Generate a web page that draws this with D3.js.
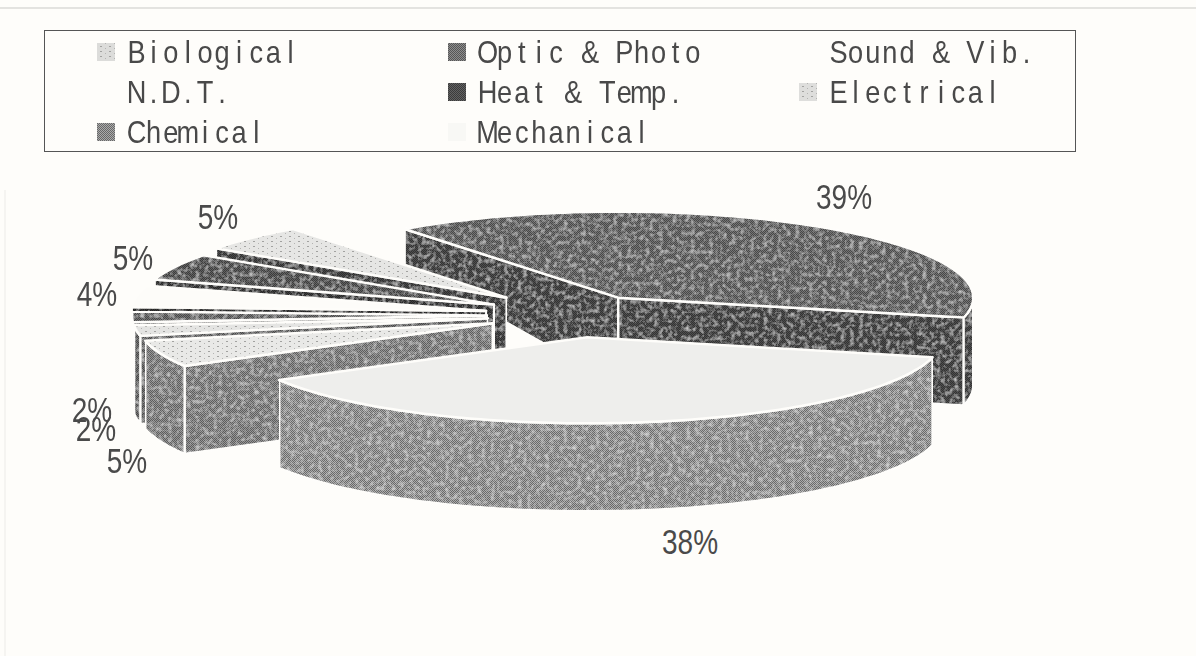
<!DOCTYPE html>
<html>
<head>
<meta charset="utf-8">
<script src="https://cdn.jsdelivr.net/npm/d3@7"></script>
<style>
  html, body { margin: 0; padding: 0; background: #fefdfa; }
  svg { display: block; }
</style>
</head>
<body>
<div id="chart"></div>
<script>
// clockwise round the pie, starting at the big dark slice
var categories = ['Heat & Temp.', 'Mechanical', 'Chemical', 'Electrical', 'Sound & Vib.', 'N.D.T.', 'Optic & Photo', 'Biological'];
var percents   = [39, 38, 5, 2, 2, 4, 5, 5];

// legend reading order
var legendNames = ['Biological', 'Optic & Photo', 'Sound & Vib.', 'N.D.T.', 'Heat & Temp.', 'Electrical', 'Chemical', 'Mechanical'];

// styles and layout, by slice
var topColors  = ['#5a5a5a', '#eeeeec', '#e9e9e7', '#e4e4e2', '#5a5a5a', '#fdfcf9', '#4c4c4c', '#e6e6e4'];
var sideColors = ['#3e3e3e', '#858585', '#757575', '#5a5a5a', '#555555', '#2c2c2c', '#333333', '#3a3a3a'];
var topStipple = [false, false, true, true, false, false, false, true];
var explodes   = [79, 86, 88, 88, 88, 90, 90, 95];
var labelSpots = [[844, 200], [690, 545], [127, 464], [96, 432], [92, 413], [97, 297], [133, 261], [218, 220]];
var swatchColors = { 'Biological': '#dcdcda', 'Optic & Photo': '#6e6e6e', 'Sound & Vib.': '#fefdfa', 'N.D.T.': '#fefdfa',
                     'Heat & Temp.': '#4c4c4c', 'Electrical': '#dededc', 'Chemical': '#858585', 'Mechanical': '#f8f8f5' };

var width = 1196, height = 656, paper = '#fefdfa';
var cx = 575, cy = 315, rx = 355, ry = 86, squash = 0.262;

var svg = d3.select('#chart').append('svg')
    .attr('width', width)
    .attr('height', height);

var defs = svg.append('defs');

/* Raster look of the scan: light blotches over a fine dither */
var grain = defs.append('filter').attr('id', 'grain')
    .attr('x', 0).attr('y', 0).attr('width', 1).attr('height', 1);
grain.append('feTurbulence').attr('type', 'fractalNoise').attr('baseFrequency', 0.22)
    .attr('numOctaves', 3).attr('seed', 4).attr('result', 'noise');
grain.append('feColorMatrix').attr('in', 'noise').attr('type', 'matrix')
    .attr('values', '0 0 0 0 1  0 0 0 0 1  0 0 0 0 1  1.1 0 0 0 -0.5').attr('result', 'specks');
grain.append('feComposite').attr('in', 'specks').attr('in2', 'SourceGraphic').attr('operator', 'in').attr('result', 'clipped');
grain.append('feMerge').selectAll('feMergeNode').data(['SourceGraphic', 'clipped']).enter()
    .append('feMergeNode').attr('in', function (d) { return d; });
defs.append('filter').attr('id', 'soft').append('feGaussianBlur').attr('stdDeviation', 0.35);

var patternCount = 0;

function dither(color) {
    var id = 'dither' + (patternCount++);
    var p = defs.append('pattern').attr('id', id).attr('patternUnits', 'userSpaceOnUse')
        .attr('width', 2).attr('height', 2);
    p.append('rect').attr('width', 2).attr('height', 2).attr('fill', d3.color(color).brighter(0.7));
    [0, 1].forEach(function (k) {
        p.append('rect').attr('x', k).attr('y', k).attr('width', 1).attr('height', 1)
            .attr('fill', d3.color(color).darker(0.7));
    });
    return 'url(#' + id + ')';
}

function stipple(color) {
    var id = 'dither' + (patternCount++);
    var p = defs.append('pattern').attr('id', id).attr('patternUnits', 'userSpaceOnUse')
        .attr('width', 9).attr('height', 5);
    p.append('rect').attr('width', 9).attr('height', 5).attr('fill', color);
    p.append('rect').attr('x', 1).attr('y', 1).attr('width', 2).attr('height', 1).attr('fill', '#a2a2a0');
    p.append('rect').attr('x', 6).attr('y', 3).attr('width', 1).attr('height', 1).attr('fill', '#b4b4b2');
    return 'url(#' + id + ')';
}

/* Paper edges */
svg.append('line').attr('x1', 0).attr('y1', 8).attr('x2', width).attr('y2', 8)
    .attr('stroke', '#c9c9c6').attr('stroke-width', 1);
svg.append('line').attr('x1', 5).attr('y1', 190).attr('x2', 5).attr('y2', height)
    .attr('stroke', '#ecebe8').attr('stroke-width', 1);

/* Legend: proportional letters on a fixed pitch, like the old plotter font */
var legend = svg.append('g').attr('filter', 'url(#soft)');
legend.append('rect')
    .attr('x', 44.5).attr('y', 30.5).attr('width', 1031).attr('height', 121)
    .attr('fill', 'none').attr('stroke', '#555').attr('stroke-width', 1);

var legendX = d3.scalePoint().domain([0, 1, 2]).range([128, 830]);
var legendY = d3.scalePoint().domain([0, 1, 2]).range([63, 143]);
var squeeze = 0.85, pitch = 17.1;

legendNames.forEach(function (name, i) {
    var col = i % 3, row = Math.floor(i / 3);
    var lum = d3.hsl(swatchColors[name]).l;
    var fill = lum > 0.96 ? swatchColors[name] : (lum > 0.8 ? stipple(swatchColors[name]) : dither(swatchColors[name]));
    legend.append('rect')
        .attr('x', legendX(col) - 31)
        .attr('y', legendY(row) - 20)
        .attr('width', 18)
        .attr('height', 18)
        .attr('fill', fill);
    legend.append('text')
        .attr('transform', 'translate(' + legendX(col) + ',' + legendY(row) + ') scale(' + squeeze + ',1)')
        .attr('x', name.split('').map(function (c, k) { return (k + 0.5) * pitch / squeeze; }).join(' '))
        .attr('text-anchor', 'middle')
        .attr('font-family', '"Liberation Sans", Arial, sans-serif')
        .attr('font-size', 32)
        .attr('fill', '#4a4a4a')
        .text(name);
});

/* Pie */
var pie = d3.pie().sort(null).value(function (d) { return d; })
    .startAngle(-37 * Math.PI / 180)
    .endAngle(323 * Math.PI / 180);
var arcs = pie(percents);

// walls get shallower towards the back of the pie
var depth = d3.scaleLinear().domain([232, 270]).range([36, 88]).clamp(true);

function lift(p) { return [p[0], p[1] + depth(p[1])]; }

var path = d3.line();

var slices = arcs.map(function (a, i) {
    var mid = (a.startAngle + a.endAngle) / 2;
    var apex = [cx + explodes[i] * Math.sin(mid), cy - explodes[i] * squash * Math.cos(mid)];
    var steps = Math.max(6, Math.ceil((a.endAngle - a.startAngle) * 40));
    var angles = d3.range(steps + 1).map(function (k) {
        return a.startAngle + (a.endAngle - a.startAngle) * k / steps;
    });
    var point = function (t) { return [apex[0] + rx * Math.sin(t), apex[1] - ry * Math.cos(t)]; };
    return {
        index: i,
        mid: mid,
        apex: apex,
        start: a.startAngle,
        end: a.endAngle,
        rim: angles.map(point),
        frontRim: angles.filter(function (t) { return Math.cos(t) < 0; }).map(point)
    };
});

// back slices first, each one covers the walls of the one behind
slices.sort(function (a, b) { return Math.cos(b.mid) - Math.cos(a.mid); });

var pieGroup = svg.append('g').attr('filter', 'url(#soft)');

slices.forEach(function (s) {
    var g = pieGroup.append('g');
    var first = s.rim[0], last = s.rim[s.rim.length - 1];
    var walls = [];

    // only the walls that face the viewer
    if (Math.cos(s.start - Math.PI / 2) < 0) walls.push([s.apex, first, lift(first), lift(s.apex)]);
    if (Math.cos(s.end + Math.PI / 2) < 0) walls.push([s.apex, last, lift(last), lift(s.apex)]);
    if (s.frontRim.length > 1) walls.push(s.frontRim.concat(s.frontRim.map(lift).reverse()));

    var wallFill = dither(sideColors[s.index]);
    walls.forEach(function (w) {
        g.append('path')
            .attr('d', path(w) + 'Z')
            .attr('fill', wallFill)
            .attr('stroke', paper)
            .attr('stroke-width', 2.5)
            .attr('stroke-linejoin', 'round')
            .attr('filter', 'url(#grain)');
    });

    var topColor = topColors[s.index];
    var isDark = d3.hsl(topColor).l < 0.6;
    g.append('path')
        .attr('d', path([s.apex].concat(s.rim)) + 'Z')
        .attr('fill', isDark ? dither(topColor) : (topStipple[s.index] ? stipple(topColor) : topColor))
        .attr('stroke', paper)
        .attr('stroke-width', 2.5)
        .attr('stroke-linejoin', 'round')
        .attr('filter', isDark ? 'url(#grain)' : null);
});

/* Percent labels */
percents.forEach(function (v, i) {
    svg.append('text')
        .attr('transform', 'translate(' + labelSpots[i][0] + ',' + labelSpots[i][1] + ') scale(0.8,1)')
        .attr('text-anchor', 'middle')
        .attr('dominant-baseline', 'middle')
        .attr('font-family', '"Liberation Sans", Arial, sans-serif')
        .attr('font-size', 35)
        .attr('fill', '#4a4a4a')
        .text(v + '%');
});
</script>
</body>
</html>
